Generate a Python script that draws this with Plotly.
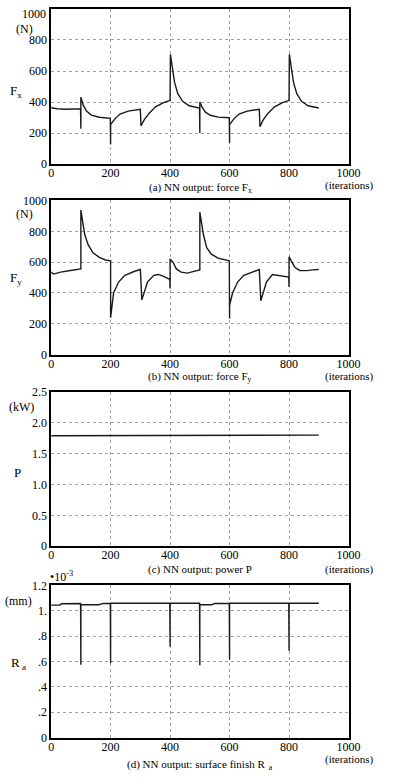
import plotly.graph_objects as go

# ---------------- data ----------------
# (a) force Fx [N]
fx_iter = [0, 20, 50, 99, 100, 100, 108, 119, 135, 162, 199,
           200, 200, 216, 232, 259, 280, 299,
           300, 302, 313, 329, 351, 378, 399,
           400, 401, 408, 415, 426, 442, 464, 491, 499,
           500, 500, 508, 519, 535, 562, 599,
           600, 600, 616, 632, 659, 680, 699,
           700, 702, 713, 729, 751, 778, 799,
           800, 801, 808, 815, 826, 842, 864, 891, 900]
fx_val = [363, 357, 354, 357, 228, 432, 380, 342, 316, 302, 295,
          127, 255, 295, 323, 342, 350, 354,
          354, 247, 285, 327, 369, 397, 411,
          411, 707, 612, 527, 454, 405, 376, 363, 362,
          200, 401, 365, 335, 315, 303, 299,
          137, 255, 295, 323, 342, 350, 354,
          354, 242, 285, 327, 369, 397, 411,
          411, 707, 612, 527, 454, 405, 376, 363, 362]

# (b) force Fy [N]
fy_iter = [0, 5, 11, 32, 65, 99, 100, 100, 108, 113, 124, 140, 162, 183, 199,
           200, 200, 210, 227, 248, 281, 299,
           300, 305, 315, 324, 345, 361, 378, 399,
           400, 400, 410, 421, 437, 458, 480, 499,
           500, 500, 512, 523, 539, 561, 583, 599,
           600, 600, 610, 627, 648, 681, 699,
           700, 705, 715, 724, 744, 770, 799,
           800, 800, 810, 820, 836, 860, 880, 900]
fy_val = [537, 526, 524, 535, 546, 556, 556, 938, 843, 779, 715, 662, 631, 614, 609,
          609, 240, 400, 471, 514, 541, 552,
          552, 355, 420, 471, 514, 520, 507, 488,
          429, 620, 599, 556, 535, 529, 540, 550,
          550, 924, 779, 694, 652, 626, 616, 609,
          235, 320, 400, 471, 514, 541, 552,
          552, 350, 420, 471, 520, 512, 503,
          439, 635, 600, 565, 546, 545, 550, 552]

# (c) power P [kW]
p_iter = [0, 300, 600, 900]
p_val = [1.79, 1.795, 1.80, 1.80]

# (d) surface finish Ra [mm * 1e-3]
ra_iter = [0, 30, 35, 99, 100, 100, 160, 175, 199, 200, 200, 399, 400, 400, 499,
           500, 500, 540, 550, 599, 600, 600, 799, 800, 800, 900]
ra_val = [1.045, 1.045, 1.055, 1.057, 0.575, 1.05, 1.048, 1.058, 1.058, 0.588, 1.06,
          1.06, 0.717, 1.06, 1.06, 0.570, 1.048, 1.048, 1.058, 1.058, 0.614, 1.06,
          1.06, 0.684, 1.06, 1.06]

x_ticks = [0, 200, 400, 600, 800, 1000]
fx_ticks = [0, 200, 400, 600, 800]
fy_ticks = [0, 200, 400, 600, 800, 1000]
p_ticks = [0, 0.5, 1.0, 1.5, 2.0, 2.5]
p_ticktext = ["0", "0.5", "1.0", "1.5", "2.0", "2.5"]
ra_ticks = [0, 0.2, 0.4, 0.6, 0.8, 1.0, 1.2]
ra_ticktext = ["0", ".2", ".4", ".6", ".8", "1.", "1.2"]

# ---------------- figure ----------------
W, H = 400, 780
FONT = "Liberation Serif"
LINE = "#1a1a1a"

def px_x(p):
    return p / W

def px_y(p):
    return 1 - p / H

# panel pixel boxes: (top, bottom)
panels = [(2, 160), (197, 354), (392, 549), (589, 744)]
xdom = [px_x(50), px_x(359)]

fig = go.Figure()
series = [(fx_iter, fx_val), (fy_iter, fy_val), (p_iter, p_val), (ra_iter, ra_val)]
for i, (xs, ys) in enumerate(series):
    sfx = "" if i == 0 else str(i + 1)
    fig.add_trace(go.Scatter(x=xs, y=ys, mode="lines",
                             line=dict(color=LINE, width=1.4),
                             xaxis="x" + sfx, yaxis="y" + sfx,
                             showlegend=False, hoverinfo="skip"))

yranges = [[0, 1000], [0, 1000], [0, 2.5], [0, 1.2]]
ytickvals = [fx_ticks, fy_ticks, p_ticks, ra_ticks]
yticktext = [[str(v) for v in fx_ticks], [str(v) for v in fy_ticks], p_ticktext, ra_ticktext]

layout = dict(width=W, height=H, margin=dict(l=0, r=0, t=0, b=0),
              paper_bgcolor="white", plot_bgcolor="white",
              font=dict(family=FONT, size=12, color="black"))
for i, (top, bot) in enumerate(panels):
    sfx = "" if i == 0 else str(i + 1)
    layout["xaxis" + sfx] = dict(
        domain=xdom, range=[0, 1000], anchor="y" + sfx,
        tickvals=x_ticks, ticktext=[str(v) for v in x_ticks],
        showline=True, mirror=True, linecolor="black", linewidth=1.5,
        showgrid=True, gridcolor="#a0a0a0", griddash="dot", gridwidth=1,
        zeroline=False, ticks="", ticklabelstandoff=-3,
        tickfont=dict(family=FONT, size=12, color="black"))
    layout["yaxis" + sfx] = dict(
        domain=[px_y(bot), px_y(top)], range=yranges[i], anchor="x" + sfx,
        tickvals=ytickvals[i], ticktext=yticktext[i],
        showline=True, mirror=True, linecolor="black", linewidth=1.5,
        showgrid=True, gridcolor="#a0a0a0", griddash="dot", gridwidth=1,
        zeroline=False, ticks="",
        tickfont=dict(family=FONT, size=12, color="black"))
fig.update_layout(**layout)

ann = []
def add(text, x, y, size=12, xanchor="center", yanchor="middle"):
    ann.append(dict(text=text, x=px_x(x), y=px_y(y), xref="paper", yref="paper",
                    showarrow=False, xanchor=xanchor, yanchor=yanchor,
                    font=dict(family=FONT, size=size, color="black")))

# top label of panel (a) and units
add("1000", 47, 7, xanchor="right")
add("(N)", 33, 22, xanchor="right")
add("(N)", 33, 211, xanchor="right")
add("(kW)", 34, 407, xanchor="right")
add("(mm)", 32, 605, xanchor="right")
add("•10<sup>-3</sup>", 47, 580, xanchor="left")

# y-axis names
add("F<sub>x</sub>", 14, 86, size=13)
add("F<sub>y</sub>", 14, 276, size=13)
add("P", 15, 474, size=13)
add("R<sub> a</sub>", 16, 668, size=13)

# captions
caps = ["(a) NN output: force F<sub>x</sub>", "(b) NN output: force F<sub>y</sub>",
        "(c) NN output: power P", "(d) NN output: surface finish R<sub>  a</sub>"]
cap_y = [184, 377, 573, 772]
it_y = [182, 376, 573, 766]
for c, cy, iy in zip(caps, cap_y, it_y):
    add(c, 205, cy, size=11)
    add("(iterations)", 360, iy, size=11)

fig.update_layout(annotations=ann)
fig.write_html("out.html")
